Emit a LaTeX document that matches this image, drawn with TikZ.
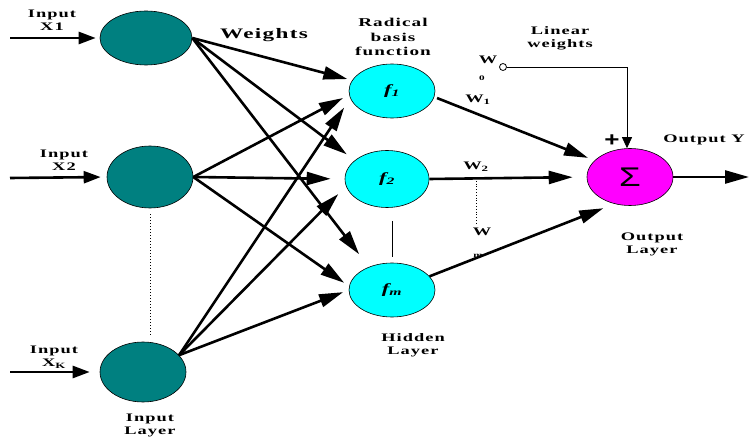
\documentclass[tikz,border=0pt]{standalone}
\usepackage{fontspec}
\setmainfont{Liberation Serif}[FakeStretch=1.6,LetterSpace=9]
\newfontfamily\sigfont{Liberation Sans}[FakeStretch=1.3]
\usetikzlibrary{shapes.geometric,arrows.meta}
\definecolor{tealnode}{RGB}{0,128,128}
\definecolor{cyannode}{RGB}{0,255,255}
\definecolor{magnode}{RGB}{255,0,255}
\begin{document}
\begin{tikzpicture}[x=1pt,y=-1pt,
  lbl/.style={font=\bfseries\fontsize{11.5}{13}\selectfont, align=center, inner sep=0pt},
  inode/.style={ellipse, draw=black, line width=0.6pt, fill=tealnode, inner sep=0pt},
  hnode/.style={ellipse, draw=black, line width=0.6pt, fill=cyannode, inner sep=0pt, minimum width=86pt, minimum height=54pt,
     font=\bfseries\itshape\fontsize{14}{14}\selectfont},
  onode/.style={ellipse, draw=black, line width=0.6pt, fill=magnode, inner sep=0pt, minimum width=86pt, minimum height=57pt},
  bigarr/.style={line width=2.6pt, -{Triangle[length=24pt,width=13pt]}},
  inarr/.style={line width=2.6pt, -{Triangle[length=17pt,width=12pt]}},
  thinarr/.style={line width=0.8pt, -{Triangle[length=11pt,width=10pt]}},
]
\useasboundingbox (0,0) rectangle (749,438);

% nodes
\node[inode, minimum width=92pt, minimum height=54pt] (i1) at (146,38) {};
\node[inode, minimum width=86pt, minimum height=62pt] (i2) at (150,177) {};
\node[inode, minimum width=86pt, minimum height=60pt] (i3) at (143,372) {};

\node[hnode] (f1) at (392,91) {f\textsubscript{1}};
\node[hnode, minimum width=84pt, minimum height=57pt] (f2) at (387,179) {f\textsubscript{2}};
\node[hnode] (fm) at (392,290) {f\textsubscript{m}};

\node[onode] (out) at (630,177) {\sigfont\fontsize{27}{27}\selectfont Σ};

\node[circle, draw=black, fill=white, line width=0.8pt, minimum size=7pt, inner sep=0pt] (w0c) at (503,67) {};

% free ends
\coordinate (x1s) at (10,38);
\coordinate (x2s) at (10,178);
\coordinate (x3s) at (10,372);
\coordinate (yend) at (749,177);

% labels
\node[lbl] (lx1) at (52,20) {Input\\X1};
\node[lbl] (lx2) at (64,160) {Input\\X2};
\node[lbl] (lx3) at (54,357) {Input\\X\textsubscript{K}};
\node[lbl] (lin) at (150,425) {Input\\Layer};
\node[lbl, font=\bfseries\fontsize{14.5}{14.5}\selectfont] (lw) at (264,35) {Weights};
\node[lbl, font=\bfseries\fontsize{12}{14.5}\selectfont] (lrbf) at (393,37) {Radical\\basis\\function};
\node[lbl] (llw) at (560,38) {Linear\\weights};
\node[lbl] (w0) at (488,60) {W};
\node[lbl, font=\bfseries\fontsize{7}{7}\selectfont] (w0s) at (482,78) {0};
\node[lbl] (w1) at (478,100) {W\textsubscript{1}};
\node[lbl] (w2) at (476,167) {W\textsubscript{2}};
\node[lbl] (wm) at (482,232) {W};
\node[lbl, font=\bfseries\fontsize{7}{7}\selectfont] (wms) at (478,256) {m};
\node[lbl, font=\sigfont\bfseries\fontsize{20}{20}\selectfont] (plus) at (612,141) {+};
\node[lbl] (loy) at (704,140) {Output Y};
\node[lbl] (lol) at (652,244) {Output\\Layer};
\node[lbl] (lhl) at (413,345) {Hidden\\Layer};

% input arrows
\draw[inarr, shorten >=4pt] (x1s) -- (i1.west);
\draw[inarr, shorten >=6pt] (x2s) -- (i2.west);
\draw[inarr, shorten >=10pt] (x3s) -- (i3.west);

% input -> hidden
\draw[bigarr, shorten >=5pt] (i1.east) -- (f1.165);
\draw[bigarr, shorten >=10pt] (i1.east) -- (f2.150);
\draw[bigarr, shorten >=16pt] (i1.east) -- (fm.135);

\draw[bigarr, shorten >=7pt] (i2.east) -- (f1.185);
\draw[bigarr, shorten >=14pt] (i2.east) -- (f2.west);
\draw[bigarr, shorten >=6pt] (i2.east) -- (fm.175);

\draw[bigarr, shorten >=11pt] (i3.25) -- (f1.190);
\draw[bigarr, shorten >=11pt] (i3.25) -- (f2.190);
\draw[bigarr, shorten >=6pt] (i3.25) -- (fm.west);

% hidden -> output
\draw[bigarr, shorten <=3pt, shorten >=7pt] (f1.-8) -- (out.155);
\draw[bigarr, shorten >=14pt] (f2.east) -- (out.west);
\draw[bigarr, shorten >=12pt] (fm.20) -- (out.240);
\draw[bigarr] (out.east) -- (yend);

% linear weight bias
\draw[thinarr] (w0c.east) -| ([xshift=-3pt]out.north);

% dotted / thin lines
\draw[dotted, line width=1pt, shorten <=6pt, shorten >=5pt] (i2.south) -- (i2.south |- i3.north);
\draw[line width=0.6pt, shorten <=13pt, shorten >=6pt] (fm.north |- f2.south) -- (fm.north);
\draw[dotted, line width=0.8pt, shorten <=9pt, shorten >=4pt] (w2.south) -- (w2.south |- wm.north);
\end{tikzpicture}
\end{document}
